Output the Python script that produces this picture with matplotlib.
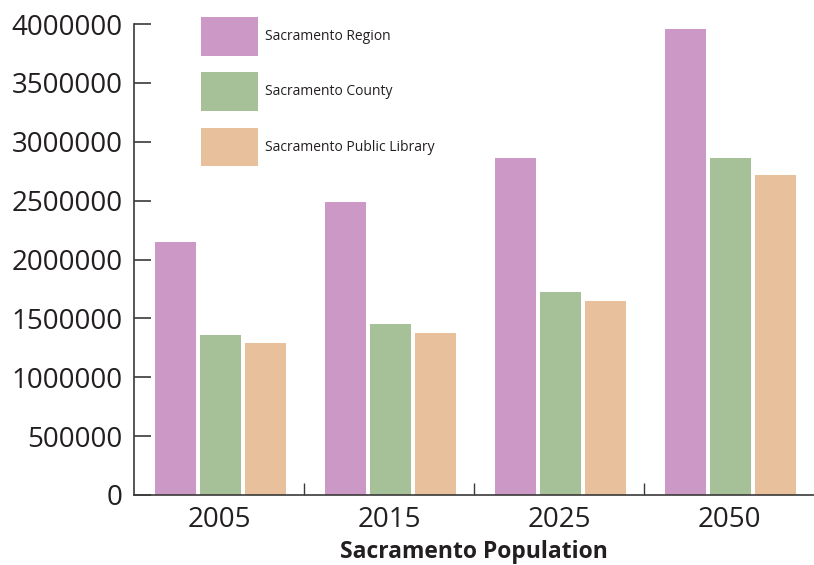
import matplotlib.pyplot as plt
import numpy as np

plt.rcParams['font.family'] = ['Open Sans', 'DejaVu Sans']

years = ['2005', '2015', '2025', '2050']
region = [2150000, 2490000, 2860000, 3960000]
county = [1360000, 1450000, 1725000, 2860000]
library = [1290000, 1380000, 1650000, 2720000]

series = [
    ('Sacramento Region', region, '#cc99c7'),
    ('Sacramento County', county, '#a6c198'),
    ('Sacramento Public Library', library, '#e8c19c'),
]

fig = plt.figure(figsize=(8.14, 5.65), dpi=100)
ax = fig.add_axes([0.1646, 0.1239, 0.8354, 0.8336])

x = np.arange(len(years))
width = 0.241
step = 0.265
for i, (name, vals, color) in enumerate(series):
    ax.bar(x + (i - 1) * step + 0.01, vals, width, color=color, label=name)

ax.set_xlim(-0.5, 3.5)
ax.set_ylim(0, 4000000)
ax.set_yticks(np.arange(0, 4000001, 500000))
ax.yaxis.set_major_formatter(plt.FuncFormatter(lambda v, p: f'{int(v)}'))

ax.set_xticks(x)
ax.set_xticklabels(years)
ax.set_xticks([0.5, 1.5, 2.5], minor=True)

for s in ['top', 'right']:
    ax.spines[s].set_visible(False)
for s in ['left', 'bottom']:
    ax.spines[s].set_color('#3a3a3a')
    ax.spines[s].set_linewidth(1.2)

ax.tick_params(axis='y', direction='in', length=12, width=1.2, color='#3a3a3a',
               pad=8, labelsize=20, labelcolor='#231f20')
ax.tick_params(axis='x', which='major', length=0, pad=8, labelsize=20,
               labelcolor='#231f20')
ax.tick_params(axis='x', which='minor', direction='in', length=8.5, width=1.0,
               color='#3a3a3a')

ax.set_xlabel('Sacramento Population', fontsize=16.5, fontweight='bold',
              color='#231f20', labelpad=4)

ax.legend(loc='upper left', bbox_to_anchor=(201 / 814, 1 - 17 / 565),
          bbox_transform=fig.transFigure, frameon=False, fontsize=10,
          handlelength=4.1, handleheight=3.9, labelspacing=1.2,
          handletextpad=0.5, borderpad=0, borderaxespad=0,
          labelcolor='#231f20')

fig.savefig('out.png', dpi=100)
